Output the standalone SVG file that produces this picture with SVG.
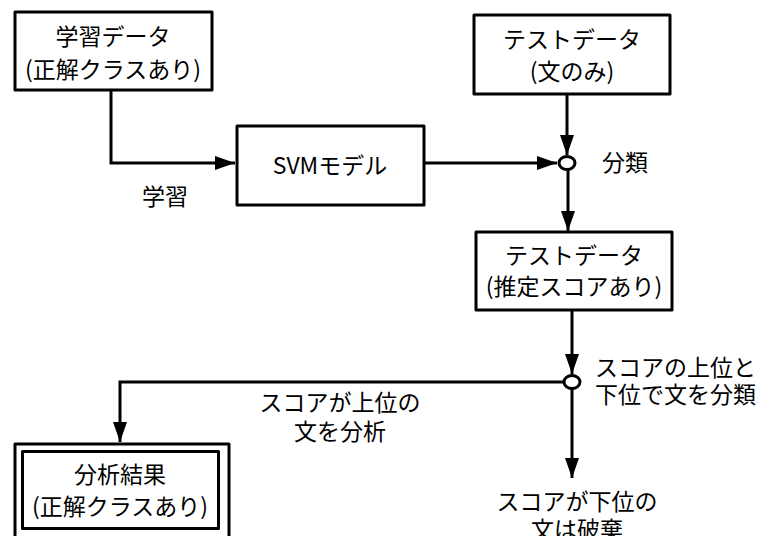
<svg xmlns="http://www.w3.org/2000/svg" width="757" height="536" viewBox="0 0 757 536">
<style>
.box{fill:#fff;stroke:#000;stroke-width:3;stroke-linejoin:round}
.conn{fill:none;stroke:#000;stroke-width:3}
.junc{fill:#fff;stroke:#000;stroke-width:3}
text{font-family:"Noto Sans CJK JP","Noto Sans",sans-serif;font-size:23px;fill:#000}
.c{text-anchor:middle}
</style>
<defs>
<marker id="ah" markerUnits="userSpaceOnUse" markerWidth="20" markerHeight="14" refX="20" refY="7" orient="auto">
<path d="M0,0 L20,7 L0,14 z" fill="#000"/>
</marker>
</defs>
<g id="connectors">
<path class="conn" d="M111,90 V163 H235" marker-end="url(#ah)"/>
<path class="conn" d="M424,163 H557" marker-end="url(#ah)"/>
<path class="conn" d="M567,94 V155" marker-end="url(#ah)"/>
<path class="conn" d="M568,170 V231" marker-end="url(#ah)"/>
<path class="conn" d="M572,310 V374" marker-end="url(#ah)"/>
<path class="conn" d="M564,382 H120 V442" marker-end="url(#ah)"/>
<path class="conn" d="M572,389 V478" marker-end="url(#ah)"/>
</g>
<g id="train">
<rect class="box" x="15" y="12" width="197" height="78"/>
<text class="c" x="113" y="45">学習データ</text>
<text class="c" x="113" y="78">(正解クラスあり)</text>
</g>
<g id="svm">
<rect class="box" x="237" y="126" width="187" height="79"/>
<text class="c" x="330" y="174">SVMモデル</text>
</g>
<g id="test">
<rect class="box" x="474" y="15" width="196" height="79"/>
<text class="c" x="572" y="48">テストデータ</text>
<text class="c" x="572" y="80">(文のみ)</text>
</g>
<g id="classify">
<ellipse class="junc" cx="567" cy="163" rx="8" ry="6.5"/>
<text x="602" y="171">分類</text>
</g>
<g id="learn-label">
<text class="c" x="165" y="205">学習</text>
</g>
<g id="scored">
<rect class="box" x="476" y="232" width="196" height="78"/>
<text class="c" x="574" y="264">テストデータ</text>
<text class="c" x="574" y="295">(推定スコアあり)</text>
</g>
<g id="split">
<ellipse class="junc" cx="572" cy="382" rx="8" ry="6.5"/>
<text x="595" y="376">スコアの上位と</text>
<text x="595" y="403">下位で文を分類</text>
</g>
<g id="upper-label">
<text class="c" x="340" y="411">スコアが上位の</text>
<text class="c" x="340" y="440">文を分析</text>
</g>
<g id="result">
<rect class="box" x="15" y="444" width="214" height="100"/>
<rect class="box" x="22.5" y="451.5" width="196" height="77"/>
<text class="c" x="120" y="483">分析結果</text>
<text class="c" x="120" y="515">(正解クラスあり)</text>
</g>
<g id="discard">
<text class="c" x="577" y="510">スコアが下位の</text>
<text class="c" x="577" y="538">文は破棄</text>
</g>
</svg>
